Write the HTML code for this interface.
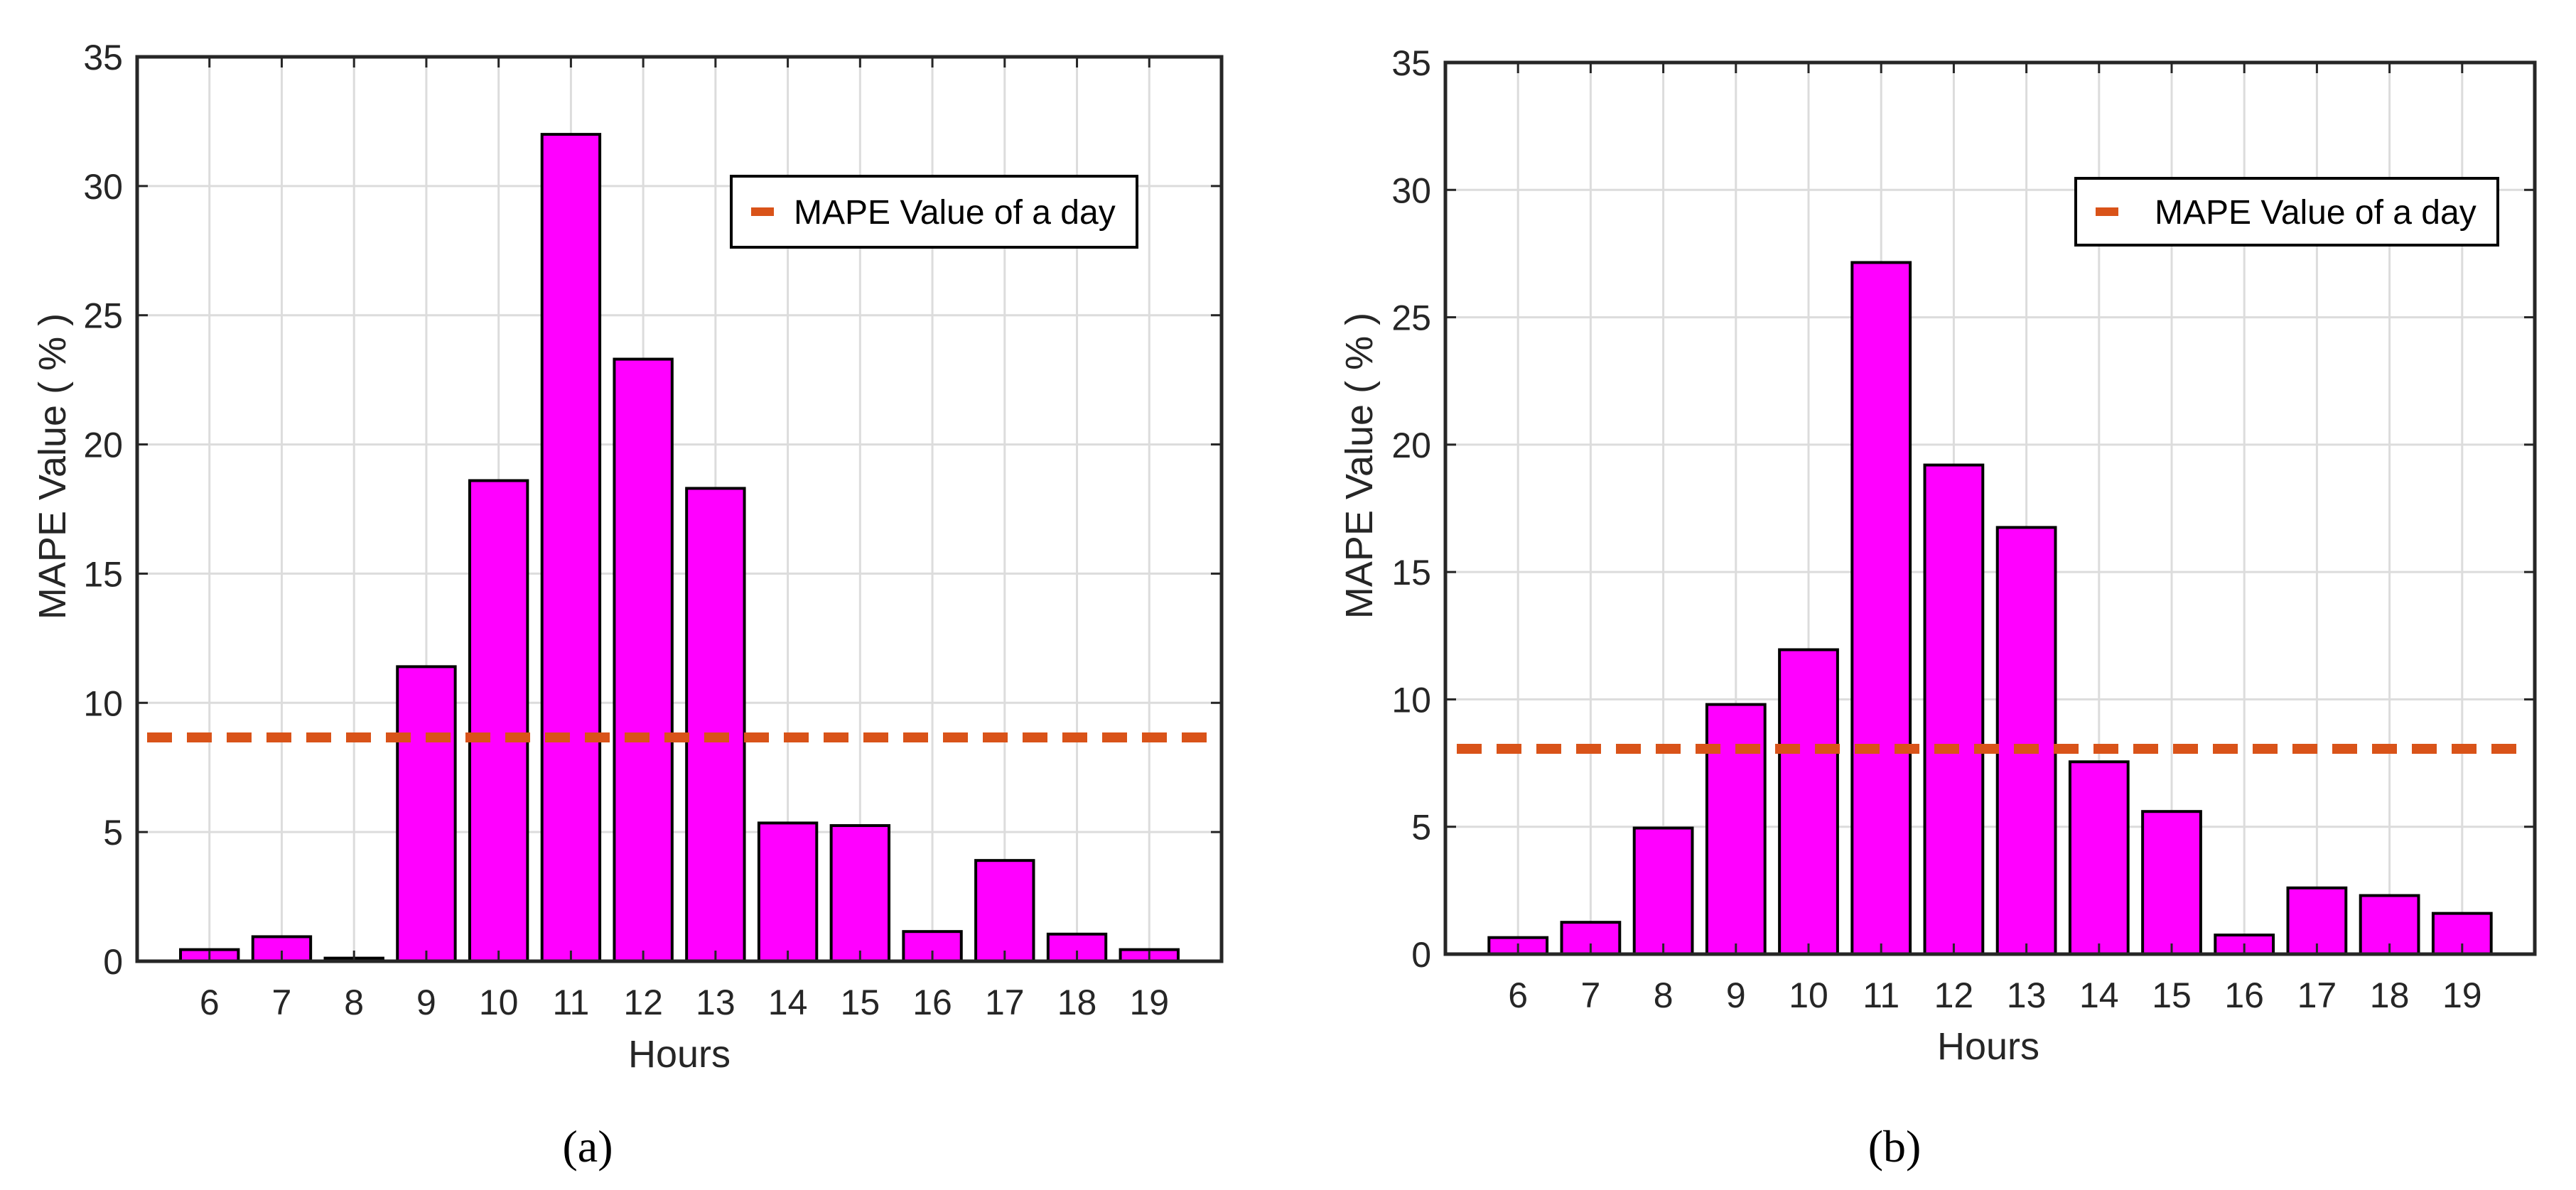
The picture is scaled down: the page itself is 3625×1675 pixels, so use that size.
<!DOCTYPE html>
<html><head><meta charset="utf-8"><style>
html,body{margin:0;padding:0;background:#fff;}
svg{display:block;font-family:"Liberation Sans",sans-serif;}
</style></head><body>
<svg id="chart" width="3625" height="1675" viewBox="0 0 3625 1675" xmlns="http://www.w3.org/2000/svg"></svg>
<script>
const hours = [6,7,8,9,10,11,12,13,14,15,16,17,18,19];
const valuesA = [0.45,0.95,0.12,11.4,18.6,32,23.3,18.3,5.35,5.25,1.15,3.9,1.05,0.45];
const valuesB = [0.65,1.25,4.95,9.8,11.95,27.15,19.2,16.75,7.55,5.6,0.75,2.6,2.3,1.6];
const dayMapeA = [8.66];
const dayMapeB = [8.06];
const yTicks = [0,5,10,15,20,25,30,35];
const panelLabels = ["(a)","(b)"];
const legendText = "MAPE Value of a day";

const NS="http://www.w3.org/2000/svg";
const svg=document.getElementById('chart');
function mk(tag,attrs,parent){const e=document.createElementNS(NS,tag);for(const k in attrs)e.setAttribute(k,attrs[k]);(parent||svg).appendChild(e);return e;}

function panel(cfg,vals,mape,label,idx){
  const g=mk('g',{});
  
  
  const {L,T,R,B}=cfg;
  const xs=v=>L+(v-5)/15*(R-L);
  const ys=v=>B-v/35*(B-T);
  // grid
  yTicks.forEach(t=>{
    const l=mk('line',{x1:L,x2:R,y1:ys(t),y2:ys(t),stroke:'#dcdcdc','stroke-width':3},g);
    
    
  });
  hours.forEach(h=>{
    const l=mk('line',{x1:xs(h),x2:xs(h),y1:T,y2:B,stroke:'#dcdcdc','stroke-width':3},g);
    
    
  });
  // bars
  hours.forEach((h,i)=>{
    const w=0.8*(R-L)/15;
    const r=mk('rect',{x:xs(h)-w/2,y:ys(vals[i]),width:w,height:B-ys(vals[i]),fill:'#ff00ff',stroke:'#000','stroke-width':4},g);
    
    
  });
  // dashed line
  const dl=mk('line',{x1:cfg.dx1,x2:cfg.dx2,y1:ys(mape[0]),y2:ys(mape[0]),stroke:'#d95319','stroke-width':14,'stroke-dasharray':'35 21'},g);
  
  
  // ticks
  yTicks.forEach(t=>{
    mk('line',{x1:L,x2:L+15,y1:ys(t),y2:ys(t),stroke:'#262626','stroke-width':3},g);
    mk('line',{x1:R-15,x2:R,y1:ys(t),y2:ys(t),stroke:'#262626','stroke-width':3},g);
    const tx=mk('text',{x:L-20,y:ys(t)+18,'text-anchor':'end','font-size':50,fill:'#262626'},g);
    tx.textContent=t;
    
    
  });
  hours.forEach(h=>{
    mk('line',{x1:xs(h),x2:xs(h),y1:B-15,y2:B,stroke:'#262626','stroke-width':3},g);
    mk('line',{x1:xs(h),x2:xs(h),y1:T,y2:T+15,stroke:'#262626','stroke-width':3},g);
    const tx=mk('text',{x:xs(h),y:B+75,'text-anchor':'middle','font-size':50,fill:'#262626'},g);
    tx.textContent=h;
    
    
  });
  const ax=mk('rect',{x:L,y:T,width:R-L,height:B-T,fill:'none',stroke:'#262626','stroke-width':5},g);
  
  
  // labels
  const xl=mk('text',{x:cfg.xlx,y:cfg.xly,'text-anchor':'middle','font-size':54,fill:'#262626'},g);
  xl.textContent='Hours';
  
  
  const yl=mk('text',{x:0,y:0,'text-anchor':'middle','font-size':54,fill:'#262626',transform:`translate(${cfg.ylx},${(T+B)/2 - 60}) rotate(-90)`},g);
  yl.textContent='MAPE Value ( % )';
  
  
  const pl=mk('text',{x:cfg.plx,y:1635,'text-anchor':'middle','font-size':64,fill:'#000','font-family':'Liberation Serif, serif'},g);
  pl.textContent=label;
  
  
  // legend
  const lg=mk('g',{},g);
  
  
  mk('rect',{x:cfg.lgx1,y:cfg.lgy1,width:cfg.lgx2-cfg.lgx1,height:cfg.lgy2-cfg.lgy1,fill:'#fff',stroke:'#000','stroke-width':4},lg);
  const cy=(cfg.lgy1+cfg.lgy2)/2;
  mk('line',{x1:cfg.lgx1+28,x2:cfg.lgx1+60,y1:cy,y2:cy,stroke:'#d95319','stroke-width':12},lg);
  const lt=mk('text',{x:cfg.lgtx,y:cy+17,'font-size':48,fill:'#000'},lg);
  lt.textContent=legendText;
  
  
}
panel({L:193,T:80,R:1719,B:1353,dx1:207,dx2:1706,xlx:956,xly:1502,ylx:92,plx:827,lgx1:1029,lgy1:248,lgx2:1600,lgy2:348,lgtx:1117},valuesA,dayMapeA,panelLabels[0],0);
panel({L:2034,T:88,R:3567,B:1343,dx1:2050,dx2:3545,xlx:2798,xly:1491,ylx:1931,plx:2666,lgx1:2921,lgy1:251,lgx2:3515,lgy2:345,lgtx:3032},valuesB,dayMapeB,panelLabels[1],1);
</script>
</body></html>
